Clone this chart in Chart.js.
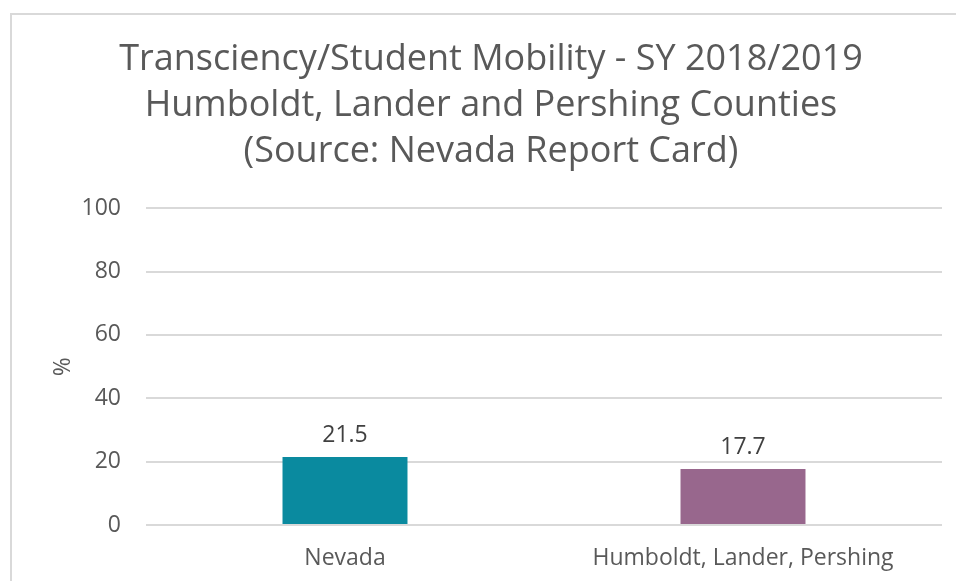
<!DOCTYPE html>
<html>
<head>
<meta charset="utf-8">
<script src="https://cdn.jsdelivr.net/npm/chart.js@4.4.1/dist/chart.umd.min.js"></script>
<style>
  html, body { margin: 0; padding: 0; background: #fff; overflow: hidden; }
  #frame {
    position: absolute; left: 10px; top: 13px; width: 980px; height: 600px;
    border: 2px solid #d9d9d9; box-sizing: border-box;
  }
  #wrap { position: absolute; left: 0; top: 0; width: 956px; height: 581px; }
</style>
</head>
<body>
<div id="frame"></div>
<div id="wrap"><canvas id="mobility"></canvas></div>
<script>
const categories = ["Nevada", "Humboldt, Lander, Pershing"];
const mobility = [21.5, 17.7];
const barColors = ["#0a8a9f", "#98678d"];
const yTicks = [0, 20, 40, 60, 80, 100];
const titleLines = [
  "Transciency/Student Mobility - SY 2018/2019",
  "Humboldt, Lander and Pershing Counties",
  "(Source: Nevada Report Card)"
];

const FONT = "'Open Sans', sans-serif";

// value labels above each bar
const barValues = {
  id: "barValues",
  afterDatasetsDraw(chart) {
    const ctx = chart.ctx;
    const meta = chart.getDatasetMeta(0);
    ctx.save();
    ctx.font = "23px " + FONT;
    ctx.fillStyle = "#404040";
    ctx.textAlign = "center";
    ctx.textBaseline = "middle";
    meta.data.forEach((bar, i) => {
      ctx.fillText(mobility[i].toFixed(1), bar.x, bar.y - 21);
    });
    ctx.restore();
  }
};

new Chart("mobility", {
  type: "bar",
  data: {
    labels: categories,
    datasets: [{
      data: mobility,
      backgroundColor: barColors,
      borderWidth: 0,
      categoryPercentage: 1,
      barPercentage: 0.314
    }]
  },
  plugins: [barValues],
  options: {
    responsive: true,
    maintainAspectRatio: false,
    animation: false,
    layout: { padding: { left: 40, right: 14, top: 0, bottom: 0 } },
    plugins: {
      legend: { display: false },
      tooltip: { enabled: false },
      title: {
        display: true,
        text: titleLines,
        color: "#595959",
        font: { family: FONT, size: 36, weight: "normal", lineHeight: 1.28 },
        padding: { top: 37, bottom: 33 }
      }
    },
    scales: {
      x: {
        grid: { display: false, drawTicks: false },
        border: { display: false },
        ticks: { color: "#595959", font: { family: FONT, size: 23 }, padding: 20 },
        afterFit(scale) { scale.height = 56; }
      },
      y: {
        min: 0,
        max: 100,
        afterBuildTicks(scale) { scale.ticks = yTicks.map(v => ({ value: v })); },
        grid: { color: "#d9d9d9", lineWidth: 2, drawTicks: false },
        border: { display: false },
        ticks: { color: "#595959", font: { family: FONT, size: 23 }, padding: 25 },
        title: {
          display: true,
          text: "%",
          color: "#595959",
          font: { family: FONT, size: 23 },
          padding: { top: 10, bottom: 0 }
        },
        afterFit(scale) { scale.width = 106; }
      }
    }
  }
});
</script>
</body>
</html>
